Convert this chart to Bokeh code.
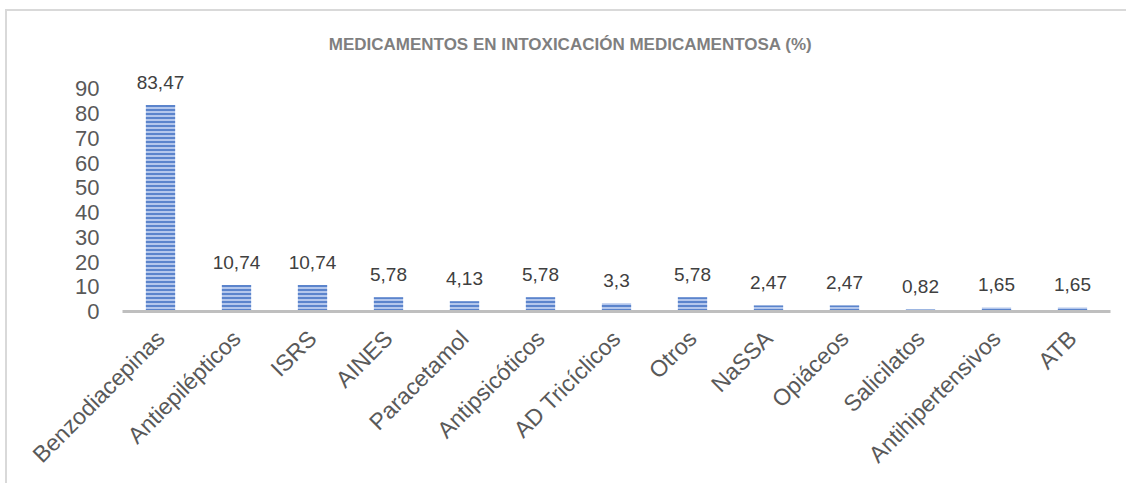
from bokeh.plotting import figure
from bokeh.models import ColumnDataSource, Range1d, FixedTicker, LabelSet, Label
from bokeh.core.properties import value
from bokeh.embed import file_html
from bokeh.resources import INLINE

categories = ["Benzodiacepinas", "Antiepilépticos", "ISRS", "AINES", "Paracetamol",
              "Antipsicóticos", "AD Tricíclicos", "Otros", "NaSSA", "Opiáceos",
              "Salicilatos", "Antihipertensivos", "ATB"]
values = [83.47, 10.74, 10.74, 5.78, 4.13, 5.78, 3.3, 5.78, 2.47, 2.47, 0.82, 1.65, 1.65]
value_labels = ["83,47", "10,74", "10,74", "5,78", "4,13", "5,78", "3,3", "5,78",
                "2,47", "2,47", "0,82", "1,65", "1,65"]
y_ticks = [0, 10, 20, 30, 40, 50, 60, 70, 80, 90]
title_text = "MEDICAMENTOS EN INTOXICACIÓN MEDICAMENTOSA (%)"

source = ColumnDataSource(dict(cat=categories, val=values, lab=value_labels))

FONT = "Liberation Sans"

p = figure(x_range=categories, y_range=Range1d(0, 114),
           width=1121, height=474, output_backend="svg", toolbar_location=None,
           min_border_left=115, min_border_right=18, min_border_top=18,
           min_border_bottom=174)

p.styles = {"border-left": "2px solid #d9d9d9", "border-top": "2px solid #d9d9d9",
            "margin-left": "5px", "margin-top": "9px"}

p.vbar(x="cat", top="val", width=0.385, source=source,
       fill_color="#b4c7ec", line_color=None,
       hatch_pattern="horizontal_line", hatch_color="#4472c4",
       hatch_scale=4, hatch_weight=1.6)

labels = LabelSet(x="cat", y="val", text="lab", source=source,
                  text_align="center", text_baseline="bottom", y_offset=16,
                  text_font=value(FONT), text_font_size=value("19px"),
                  text_color="#404040")
p.add_layout(labels)

# title centred over the whole chart area (synthetic categorical coordinate)
title = Label(x=5.895, y=108, text=title_text,
              text_align="center", text_baseline="middle",
              text_font=FONT, text_font_size="17px", text_font_style="bold",
              text_color="#7f7f7f")
p.add_layout(title)

p.xgrid.visible = False
p.ygrid.visible = False
p.outline_line_color = None

p.yaxis.ticker = FixedTicker(ticks=y_ticks)
p.yaxis.axis_line_color = None
p.yaxis.major_tick_line_color = None
p.yaxis.minor_tick_line_color = None
p.yaxis.major_label_text_font = FONT
p.yaxis.major_label_text_font_size = "22px"
p.yaxis.major_label_text_color = "#595959"
p.yaxis.major_label_standoff = 17

p.xaxis.axis_line_color = "#bfbfbf"
p.xaxis.axis_line_width = 3
p.xaxis.major_tick_line_color = None
p.xaxis.minor_tick_line_color = None
p.xaxis.major_label_orientation = 0.785398
p.xaxis.major_label_text_font = FONT
p.xaxis.major_label_text_font_size = "23px"
p.xaxis.major_label_text_color = "#595959"
p.xaxis.major_label_standoff = 17

p.x_range.range_padding = 0

open("out.html", "w").write(file_html(p, INLINE))
